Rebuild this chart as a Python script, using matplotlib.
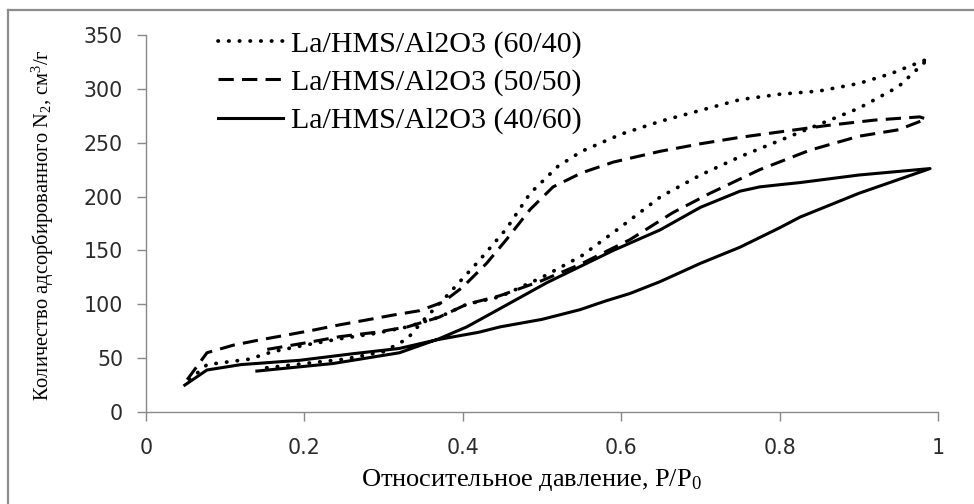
import matplotlib
matplotlib.use("Agg")
import matplotlib.pyplot as plt
from matplotlib.lines import Line2D

# ---- data ----
labels = ["La/HMS/Al2O3 (60/40)", "La/HMS/Al2O3 (50/50)", "La/HMS/Al2O3 (40/60)"]

# 60/40 (dotted): adsorption then desorption, one continuous series
x_6040 = [0.055, 0.077, 0.13, 0.16, 0.20, 0.245, 0.29, 0.33, 0.37, 0.405, 0.447, 0.50, 0.55, 0.60,
          0.65, 0.70, 0.75, 0.80, 0.85, 0.90, 0.95, 0.988,
          0.94, 0.90, 0.85, 0.80, 0.75, 0.70, 0.65, 0.60, 0.55, 0.52, 0.485, 0.455, 0.42, 0.38,
          0.35, 0.33, 0.30, 0.25, 0.20, 0.14]
y_6040 = [30, 44, 49, 56, 62, 68, 73, 79, 88, 100, 107, 125, 145, 172,
          200, 220, 237, 252, 267, 282, 302, 328,
          314, 305, 298, 295, 290, 280, 270, 258, 242, 228, 203, 170, 140, 108,
          85, 68, 56, 49, 45, 40]

# 50/50 (dashed)
x_5050 = [0.052, 0.077, 0.11, 0.144, 0.178, 0.211, 0.245, 0.279, 0.312, 0.345, 0.375, 0.40, 0.43,
          0.455, 0.485, 0.514, 0.55, 0.59, 0.649, 0.70, 0.75, 0.80, 0.86, 0.92, 0.977, 0.985,
          0.95, 0.90, 0.838, 0.775, 0.712, 0.665, 0.611, 0.548, 0.50, 0.447, 0.405, 0.37, 0.33,
          0.29, 0.245, 0.20, 0.152]
y_5050 = [30, 55, 62, 67, 71.5, 76, 81, 85.5, 90, 94, 102, 116, 138,
          160, 188, 209, 222, 232, 242, 249, 255, 260, 266, 271, 274, 272,
          262, 256, 243, 225, 203, 185, 160, 137, 122, 108, 100, 88, 79,
          74, 70, 64, 58]

# 40/60 (solid)
x_4060 = [0.049, 0.077, 0.12, 0.194, 0.26, 0.32, 0.367, 0.42, 0.447, 0.50, 0.548, 0.58, 0.611,
          0.649, 0.70, 0.75, 0.80, 0.826, 0.90, 0.99,
          0.90, 0.826, 0.80, 0.775, 0.75, 0.70, 0.649, 0.59, 0.506, 0.447, 0.405, 0.37, 0.32,
          0.236, 0.14]
y_4060 = [25, 39, 44, 48, 54, 59, 67, 74, 79, 86, 95, 103, 110,
          121, 138, 153, 171, 181, 203, 226,
          220, 213, 211, 209, 205, 190, 169, 150, 120, 96, 79, 68, 55,
          45, 38]

x_ticks = [0, 0.2, 0.4, 0.6, 0.8, 1]
x_tick_labels = ["0", "0.2", "0.4", "0.6", "0.8", "1"]
y_ticks = [0, 50, 100, 150, 200, 250, 300, 350]

serif = "Liberation Serif"
plt.rcParams["mathtext.fontset"] = "custom"
plt.rcParams["mathtext.rm"] = serif
plt.rcParams["mathtext.it"] = serif + ":italic"

# ---- figure ----
fig = plt.figure(figsize=(9.74, 5.04), dpi=100)
ax = fig.add_axes([146/974, 1 - 412/504, (938 - 146)/974, (412 - 35)/504])

lw = 2.2
h1, = ax.plot(x_6040, y_6040, color="black", lw=2.7, linestyle=(0, (0.1, 2.75)),
              dash_capstyle="round", solid_joinstyle="round", label=labels[0])
h2, = ax.plot(x_5050, y_5050, color="black", lw=lw, linestyle=(0, (5, 2.7)),
              label=labels[1])
h3, = ax.plot(x_4060, y_4060, color="black", lw=lw, linestyle="-",
              solid_joinstyle="round", label=labels[2])

ax.set_xlim(0, 1)
ax.set_ylim(0, 350)
ax.set_xticks(x_ticks)
ax.set_xticklabels(x_tick_labels)
ax.set_yticks(y_ticks)

gray = "#898989"
for s in ["top", "right"]:
    ax.spines[s].set_visible(False)
for s in ["left", "bottom"]:
    ax.spines[s].set_color(gray)
    ax.spines[s].set_linewidth(1.0)
ax.tick_params(axis="both", direction="out", length=6.5, width=1.0, color=gray,
               labelsize=14.8, labelcolor="#2a2a2a")
ax.tick_params(axis="y", pad=10)
ax.tick_params(axis="x", pad=12)
for t in ax.get_xticklabels() + ax.get_yticklabels():
    t.set_family("DejaVu Sans")

ax.set_xlabel(r"Относительное давление, P/P$\mathregular{_0}$", fontsize=19, family=serif)
ax.xaxis.set_label_coords(0.486, -(480 - 412) / 377, transform=ax.transAxes)
ax.xaxis.label.set_va("center")
ax.set_ylabel(r"Количество адсорбированного N$\mathregular{_2}$, см$\mathregular{^3}$/г",
              fontsize=14.8, family=serif)
ax.yaxis.set_label_coords(-(146 - 43) / 792, 0.497, transform=ax.transAxes)
ax.yaxis.label.set_va("center")

leg = ax.legend(handles=[h1, h2, h3], loc="upper left", bbox_to_anchor=(0.076, 1.043),
                frameon=False, prop={"family": serif, "size": 21.6},
                handlelength=2.15, handletextpad=0.28, labelspacing=0.36, borderaxespad=0)

# outer chart-area border (only left and top visible in the reference)
fig.add_artist(Line2D([8/974, 8/974], [0, 1 - 10/504], transform=fig.transFigure,
                      color="#8c8c8c", lw=1.6))
fig.add_artist(Line2D([8/974, 1], [1 - 10/504, 1 - 10/504], transform=fig.transFigure,
                      color="#8c8c8c", lw=1.6))

fig.savefig("out.png", dpi=100)
